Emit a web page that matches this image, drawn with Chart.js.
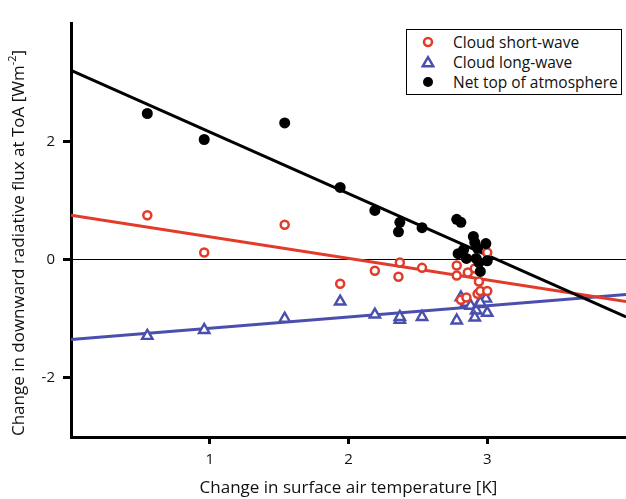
<!DOCTYPE html>
<html>
<head>
<meta charset="utf-8">
<script src="https://cdn.jsdelivr.net/npm/chart.js@4.4.1/dist/chart.umd.min.js"></script>
<style>
html, body { margin: 0; padding: 0; background: #fff; }
#wrap { position: relative; width: 626px; height: 499px; }
#legend {
    position: absolute; left: 406px; top: 29px; width: 216px; height: 66px;
    border: 1px solid #000; background: #fff; box-sizing: border-box;
    font-family: 'Open Sans', sans-serif; font-size: 15.5px; color: #111;
    padding-top: 2px;
}
#legend .row { position: relative; height: 20px; line-height: 20px; padding-left: 46px; white-space: nowrap; }
#legend svg { position: absolute; left: 14px; top: 3px; }
</style>
</head>
<body>
<div id="wrap">
    <canvas id="chart" width="626" height="499"></canvas>
    <div id="legend">
        <div class="row"><svg width="14" height="14"><circle cx="7" cy="7" r="4" fill="#fff" stroke="#e23b2a" stroke-width="2.5"/></svg>Cloud short-wave</div>
        <div class="row"><svg width="14" height="14"><polygon points="7,2.2 12.3,11.3 1.7,11.3" fill="#fff" stroke="#4a4fae" stroke-width="2.4"/></svg>Cloud long-wave</div>
        <div class="row"><svg width="14" height="14"><circle cx="7" cy="7" r="5" fill="#000"/></svg>Net top of atmosphere</div>
    </div>
</div>
<script>
// Axis ticks
const xTicks = [1, 2, 3];
const yTicks = [-2, 0, 2];

// Cloud short-wave (red circles)
const swX = [0.55, 0.96, 1.54, 1.94, 2.19, 2.37, 2.36, 2.53,
             2.78, 2.78, 2.86, 2.91, 3.00, 2.94, 2.81, 2.85, 2.93, 2.95, 3.00];
const swY = [0.75, 0.12, 0.59, -0.41, -0.19, -0.05, -0.29, -0.14,
             -0.10, -0.27, -0.22, -0.15, 0.12, -0.37, -0.68, -0.64, -0.58, -0.53, -0.53];

// Cloud long-wave (blue triangles)
const lwX = [0.55, 0.96, 1.54, 1.94, 2.19, 2.37, 2.37, 2.53,
             2.78, 2.81, 2.85, 2.88, 2.92, 2.94, 2.99, 3.00, 2.91, 2.95];
const lwY = [-1.29, -1.19, -1.00, -0.71, -0.93, -1.02, -0.97, -0.97,
             -1.03, -0.64, -0.73, -0.78, -0.86, -0.75, -0.66, -0.90, -0.98, -0.73];

// Net top of atmosphere (black dots)
const netX = [0.55, 0.96, 1.54, 1.94, 2.19, 2.37, 2.36, 2.53,
              2.78, 2.81, 2.90, 2.91, 2.99, 2.93, 2.83, 2.79, 2.85, 2.92, 3.00, 2.94, 2.95];
const netY = [2.47, 2.03, 2.31, 1.22, 0.83, 0.63, 0.47, 0.54,
              0.68, 0.63, 0.39, 0.29, 0.27, 0.19, 0.17, 0.10, 0.02, 0.02, -0.02, -0.05, -0.20];

// Regression lines (end points)
const fitX = [0, 4];
const swFit = [0.75, -0.71];
const lwFit = [-1.35, -0.59];
const netFit = [3.2, -0.97];

const RED = '#e23b2a';
const BLUE = '#4a4fae';
const FONT = 'Open Sans';

function pts(xs, ys) {
    return xs.map((x, i) => ({ x: x, y: ys[i] }));
}

// y axis title with superscript, drawn by hand
const yTitle = {
    id: 'yTitle',
    afterDraw(chart) {
        const ctx = chart.ctx;
        const main = 'Change in downward radiative flux at ToA [Wm';
        const sup = '-2';
        const end = ']';
        ctx.save();
        ctx.translate(19, 243);
        ctx.rotate(-Math.PI / 2);
        ctx.fillStyle = '#111';
        ctx.textBaseline = 'middle';
        ctx.textAlign = 'left';
        ctx.font = '17px "' + FONT + '"';
        const w1 = ctx.measureText(main).width;
        const w3 = ctx.measureText(end).width;
        ctx.font = '11px "' + FONT + '"';
        const w2 = ctx.measureText(sup).width;
        let x = -(w1 + w2 + w3) / 2;
        ctx.font = '17px "' + FONT + '"';
        ctx.fillText(main, x, 0);
        ctx.font = '11px "' + FONT + '"';
        ctx.fillText(sup, x + w1, -6);
        ctx.font = '17px "' + FONT + '"';
        ctx.fillText(end, x + w1 + w2, 0);
        ctx.restore();
    }
};

new Chart(document.getElementById('chart'), {
    type: 'scatter',
    data: {
        datasets: [
            {
                label: 'Net top of atmosphere',
                data: pts(netX, netY),
                pointStyle: 'circle',
                pointRadius: 5.5,
                backgroundColor: '#000',
                borderColor: '#000',
                borderWidth: 0,
                order: 0
            },
            {
                label: 'Cloud short-wave',
                data: pts(swX, swY),
                pointStyle: 'circle',
                pointRadius: 4,
                backgroundColor: '#fff',
                borderColor: RED,
                borderWidth: 2.5,
                order: 1
            },
            {
                label: 'Cloud long-wave',
                data: pts(lwX, lwY),
                pointStyle: 'triangle',
                pointRadius: 6,
                backgroundColor: '#fff',
                borderColor: BLUE,
                borderWidth: 2.4,
                order: 2
            },
            {
                data: pts(fitX, netFit),
                showLine: true,
                pointRadius: 0,
                borderColor: '#000',
                borderWidth: 3,
                order: 3
            },
            {
                data: pts(fitX, swFit),
                showLine: true,
                pointRadius: 0,
                borderColor: RED,
                borderWidth: 3,
                order: 4
            },
            {
                data: pts(fitX, lwFit),
                showLine: true,
                pointRadius: 0,
                borderColor: BLUE,
                borderWidth: 3,
                order: 5
            }
        ]
    },
    options: {
        responsive: false,
        animation: false,
        events: [],
        layout: { autoPadding: false, padding: { top: 23, right: 0, left: 0, bottom: 0 } },
        plugins: {
            legend: { display: false },
            tooltip: { enabled: false }
        },
        scales: {
            x: {
                type: 'linear',
                min: 0,
                max: 4,
                afterBuildTicks: s => { s.ticks = xTicks.map(v => ({ value: v })); },
                afterFit: s => { s.height = 62; s.paddingLeft = 0; s.paddingRight = 0; },
                border: { color: '#000', width: 3 },
                grid: { drawOnChartArea: false, tickLength: 7, tickWidth: 3, tickColor: '#000' },
                ticks: { color: '#111', padding: 7, font: { family: FONT, size: 15 } },
                title: {
                    display: true,
                    text: 'Change in surface air temperature [K]',
                    color: '#111',
                    font: { family: FONT, size: 17, lineHeight: 1.2 },
                    padding: { top: 0, bottom: 1 }
                }
            },
            y: {
                type: 'linear',
                min: -3,
                max: 4,
                afterBuildTicks: s => { s.ticks = yTicks.map(v => ({ value: v })); },
                afterFit: s => { s.width = 71; s.paddingTop = 0; s.paddingBottom = 0; },
                border: { color: '#000', width: 3 },
                grid: {
                    drawOnChartArea: true,
                    color: c => (c.tick && c.tick.value === 0 ? '#000' : 'rgba(0,0,0,0)'),
                    lineWidth: 1,
                    tickLength: 8,
                    tickWidth: 3,
                    tickColor: '#000'
                },
                ticks: { color: '#111', padding: 8, font: { family: FONT, size: 15 } }
            }
        }
    },
    plugins: [yTitle]
});
</script>
</body>
</html>
